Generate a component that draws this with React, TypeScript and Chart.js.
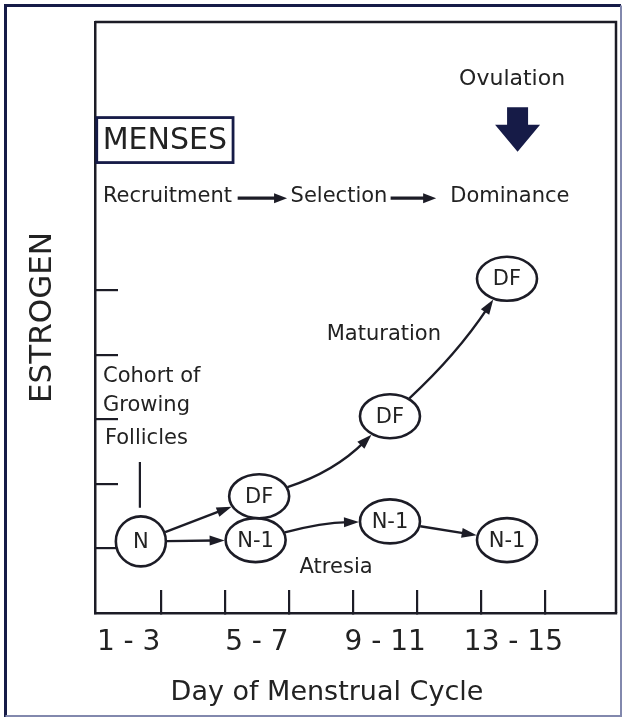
import { useEffect, useRef } from 'react';
import { Chart, registerables } from 'chart.js';

Chart.register(...registerables);

// ---------- data ----------
const xTickDays = [3, 5, 7, 9, 11, 13, 15];
const xLabelDays = [2, 6, 10, 14];
const xLabels = ['1 - 3', '5 - 7', '9 - 11', '13 - 15'];
const yTickLevels = [1, 2, 3, 4, 5];

const nodeLabels = ['N', 'N-1', 'DF', 'DF', 'DF', 'N-1', 'N-1'];
const nodeDays = [2.38, 5.96, 6.07, 10.15, 13.8, 10.15, 13.8];
const nodeLevels = [1.11, 1.13, 1.81, 3.05, 5.18, 1.42, 1.13];

const arrowFrom = [0, 0, 2, 3, 1, 5];
const arrowTo = [2, 1, 3, 4, 5, 6];

const noteTexts = ['Ovulation', 'Recruitment', 'Selection', 'Dominance', 'Maturation', 'Cohort of', 'Growing', 'Follicles', 'Atresia'];
const noteDays = [13.96, 3.21, 8.56, 13.89, 9.96, 1.2, 1.2, 1.26, 8.47];
const noteLevels = [8.27, 6.45, 6.45, 6.45, 4.31, 3.67, 3.22, 2.71, 0.71];

const stageArrowStart = [5.4, 10.17];
const stageArrowEnd = [6.94, 11.59];
const stageArrowLevel = 6.43;

const pointerDays = [2.35, 2.35];
const pointerLevels = [2.34, 1.63];

const ovulationDay = 14.13;
const ovulationLevels = [7.84, 7.15];

const mensesText = 'MENSES';
const mensesDay = 3.13;
const mensesLevel = 7.33;

const xTitle = 'Day of Menstrual Cycle';
const yTitle = 'ESTROGEN';

// ---------- styles ----------
const LINE = '#1c1c26';
const TEXT = '#222222';
const NAVY = '#161b47';
const FONT = '"DejaVu Sans", "Liberation Sans", sans-serif';
const arrowBends = [0, 0, 0.12, 0.06, -0.06, 0];
const noteAlign = ['center', 'center', 'center', 'center', 'center', 'left', 'left', 'left', 'center'];
const noteSizes = [22, 21, 21, 21, 21, 21, 21, 21, 21];

function nodeRadii(label: string): [number, number] {
  return label === 'N' ? [25, 25] : [30, 22];
}

function boundaryPoint(cx: number, cy: number, rx: number, ry: number, tx: number, ty: number, gap: number) {
  const dx = tx - cx;
  const dy = ty - cy;
  const d = Math.hypot(dx, dy) || 1;
  const ux = dx / d;
  const uy = dy / d;
  const t = 1 / Math.sqrt((ux / rx) ** 2 + (uy / ry) ** 2) + gap;
  return { x: cx + ux * t, y: cy + uy * t };
}

function arrowHead(ctx: CanvasRenderingContext2D, tipX: number, tipY: number, ang: number, len: number, half: number) {
  const c = Math.cos(ang);
  const s = Math.sin(ang);
  const bx = tipX - c * len;
  const by = tipY - s * len;
  ctx.beginPath();
  ctx.moveTo(tipX, tipY);
  ctx.lineTo(bx - s * half, by + c * half);
  ctx.lineTo(bx + s * half, by - c * half);
  ctx.closePath();
  ctx.fill();
}

const diagramPlugin = {
  id: 'diagram',
  beforeDraw(chart: any) {
    const { ctx, width, height } = chart;
    ctx.save();
    ctx.fillStyle = '#ffffff';
    ctx.fillRect(0, 0, width, height);
    // outer frame of the figure
    ctx.lineWidth = 3;
    ctx.strokeStyle = NAVY;
    ctx.beginPath();
    ctx.moveTo(5.5, 717);
    ctx.lineTo(5.5, 5.5);
    ctx.lineTo(621, 5.5);
    ctx.stroke();
    ctx.lineWidth = 2;
    ctx.strokeStyle = '#8288ad';
    ctx.beginPath();
    ctx.moveTo(621, 5.5);
    ctx.lineTo(621, 716);
    ctx.lineTo(5.5, 716);
    ctx.stroke();
    ctx.restore();
  },
  afterDraw(chart: any) {
    const { ctx, chartArea: a, scales } = chart;
    const xs = scales.x;
    const ys = scales.y;
    ctx.save();

    // top and right frame of the plot
    ctx.strokeStyle = LINE;
    ctx.lineWidth = 2.5;
    ctx.beginPath();
    ctx.moveTo(a.left, a.top);
    ctx.lineTo(a.right, a.top);
    ctx.lineTo(a.right, a.bottom);
    ctx.stroke();

    // follicle nodes
    const meta = chart.getDatasetMeta(0);
    const pts = meta.data.map((el: any) => ({ x: el.x, y: el.y }));

    // arrows between nodes
    ctx.strokeStyle = LINE;
    ctx.fillStyle = LINE;
    ctx.lineWidth = 2.4;
    for (let k = 0; k < arrowFrom.length; k++) {
      const A = pts[arrowFrom[k]];
      const B = pts[arrowTo[k]];
      const rA = nodeRadii(nodeLabels[arrowFrom[k]]);
      const rB = nodeRadii(nodeLabels[arrowTo[k]]);
      const dx = B.x - A.x;
      const dy = B.y - A.y;
      const len = Math.hypot(dx, dy);
      const bend = arrowBends[k];
      const cx = (A.x + B.x) / 2 + (-dy / len) * bend * len;
      const cy = (A.y + B.y) / 2 + (dx / len) * bend * len;
      const s = boundaryPoint(A.x, A.y, rA[0], rA[1], cx, cy, 1);
      const e = boundaryPoint(B.x, B.y, rB[0], rB[1], cx, cy, 1);
      const ang = Math.atan2(e.y - cy, e.x - cx);
      const headLen = 15;
      const bx = e.x - Math.cos(ang) * headLen * 0.7;
      const by = e.y - Math.sin(ang) * headLen * 0.7;
      ctx.beginPath();
      ctx.moveTo(s.x, s.y);
      ctx.quadraticCurveTo(cx, cy, bx, by);
      ctx.stroke();
      arrowHead(ctx, e.x, e.y, ang, headLen, 5);
    }

    // ellipses + labels
    ctx.lineWidth = 2.6;
    ctx.font = `21px ${FONT}`;
    ctx.textAlign = 'center';
    ctx.textBaseline = 'middle';
    pts.forEach((p: any, i: number) => {
      const [rx, ry] = nodeRadii(nodeLabels[i]);
      ctx.beginPath();
      ctx.ellipse(p.x, p.y, rx, ry, 0, 0, Math.PI * 2);
      ctx.fillStyle = '#ffffff';
      ctx.fill();
      ctx.strokeStyle = LINE;
      ctx.stroke();
      ctx.fillStyle = TEXT;
      ctx.fillText(nodeLabels[i], p.x, p.y + 1);
    });

    // annotations
    ctx.fillStyle = TEXT;
    noteTexts.forEach((t, i) => {
      ctx.font = `${noteSizes[i]}px ${FONT}`;
      ctx.textAlign = noteAlign[i] as CanvasTextAlign;
      ctx.fillText(t, xs.getPixelForValue(noteDays[i]), ys.getPixelForValue(noteLevels[i]));
    });

    // stage arrows
    ctx.strokeStyle = LINE;
    ctx.fillStyle = LINE;
    ctx.lineWidth = 3.2;
    stageArrowStart.forEach((d, i) => {
      const x1 = xs.getPixelForValue(d);
      const x2 = xs.getPixelForValue(stageArrowEnd[i]);
      const yy = ys.getPixelForValue(stageArrowLevel);
      ctx.beginPath();
      ctx.moveTo(x1, yy);
      ctx.lineTo(x2 - 8, yy);
      ctx.stroke();
      arrowHead(ctx, x2, yy, 0, 13, 5);
    });

    // MENSES box
    ctx.font = `30px ${FONT}`;
    ctx.textAlign = 'center';
    const mx = xs.getPixelForValue(mensesDay);
    const my = ys.getPixelForValue(mensesLevel);
    const mw = ctx.measureText(mensesText).width + 12;
    ctx.strokeStyle = NAVY;
    ctx.lineWidth = 2.8;
    ctx.strokeRect(mx - mw / 2, my - 22.5, mw, 45);
    ctx.fillStyle = TEXT;
    ctx.fillText(mensesText, mx, my + 1);

    // ovulation block arrow
    const ox = xs.getPixelForValue(ovulationDay);
    const oTop = ys.getPixelForValue(ovulationLevels[0]);
    const oTip = ys.getPixelForValue(ovulationLevels[1]);
    const headTop = oTip - 27;
    ctx.fillStyle = NAVY;
    ctx.beginPath();
    ctx.moveTo(ox - 10.5, oTop);
    ctx.lineTo(ox + 10.5, oTop);
    ctx.lineTo(ox + 10.5, headTop);
    ctx.lineTo(ox + 22.5, headTop);
    ctx.lineTo(ox, oTip);
    ctx.lineTo(ox - 22.5, headTop);
    ctx.lineTo(ox - 10.5, headTop);
    ctx.closePath();
    ctx.fill();

    // x axis title
    ctx.font = `27px ${FONT}`;
    ctx.fillStyle = TEXT;
    ctx.textAlign = 'center';
    ctx.textBaseline = 'middle';
    ctx.fillText(xTitle, 327, 693);

    ctx.restore();
  },
};

export default function App() {
  const ref = useRef<HTMLCanvasElement | null>(null);

  useEffect(() => {
    if (!ref.current) return;
    const chart = new Chart(ref.current, {
      type: 'scatter',
      data: {
        datasets: [
          {
            type: 'scatter',
            label: 'Follicles',
            data: nodeDays.map((d, i) => ({ x: d, y: nodeLevels[i] })),
            pointRadius: 0,
            pointHoverRadius: 0,
          },
          {
            type: 'line',
            label: 'Cohort pointer',
            data: pointerDays.map((d, i) => ({ x: d, y: pointerLevels[i] })),
            borderColor: LINE,
            borderWidth: 2.2,
            pointRadius: 0,
            fill: false,
          },
        ],
      },
      options: {
        responsive: false,
        animation: false,
        events: [],
        layout: { padding: { top: 22, right: 11, left: 0, bottom: 0 } },
        plugins: {
          legend: { display: false },
          tooltip: { enabled: false },
        },
        scales: {
          x: {
            type: 'linear',
            min: 0.95,
            max: 17.2,
            bounds: 'data',
            afterBuildTicks: (s: any) => {
              s.ticks = [...xTickDays, ...xLabelDays].sort((p, q) => p - q).map((v) => ({ value: v }));
            },
            afterFit: (s: any) => {
              s.height = 106;
            },
            ticks: {
              autoSkip: false,
              maxRotation: 0,
              padding: 36,
              color: TEXT,
              font: { family: FONT, size: 28 },
              callback: (v: any) => {
                const idx = xLabelDays.indexOf(Number(v));
                return idx >= 0 ? xLabels[idx] : '';
              },
            },
            grid: {
              drawOnChartArea: false,
              drawTicks: true,
              tickLength: -23,
              lineWidth: 2.2,
              color: (c: any) => (c.tick && xTickDays.includes(c.tick.value) ? LINE : 'rgba(0,0,0,0)'),
            },
            border: { display: true, color: LINE, width: 2.5 },
          },
          y: {
            type: 'linear',
            min: 0,
            max: 9.16,
            bounds: 'data',
            afterBuildTicks: (s: any) => {
              s.ticks = yTickLevels.map((v) => ({ value: v }));
            },
            afterFit: (s: any) => {
              s.width = 95;
            },
            ticks: { display: false },
            grid: {
              drawOnChartArea: false,
              drawTicks: true,
              tickLength: -23,
              lineWidth: 2.2,
              color: LINE,
            },
            border: { display: true, color: LINE, width: 2.5 },
            title: {
              display: true,
              text: yTitle,
              color: TEXT,
              font: { family: FONT, size: 31 },
              padding: { top: 24, bottom: 0 },
            },
          },
        },
      },
      plugins: [diagramPlugin],
    } as any);
    return () => chart.destroy();
  }, []);

  return (
    <div style={{ position: 'absolute', left: 0, top: 0, width: 627, height: 719, background: '#fff' }}>
      <canvas ref={ref} width={627} height={719} style={{ display: 'block' }} />
    </div>
  );
}
